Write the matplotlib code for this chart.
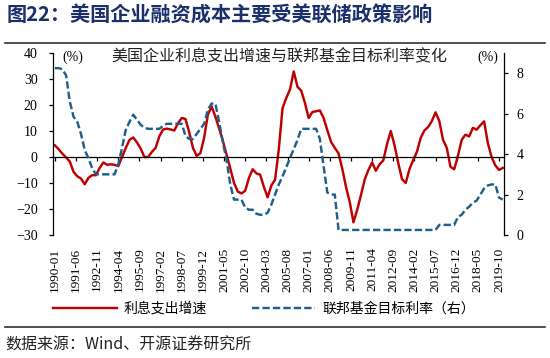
import matplotlib
matplotlib.use("Agg")
import matplotlib.pyplot as plt
import numpy as np

# ---------------- data ----------------
# quarterly observations, month index from 1990-01 (0) to 2020-01 (360)
months = list(range(0, 361, 3))

interest_growth = [
    4.5, 3.0, 1.3, -0.2, -1.7, -5.7, -7.4, -8.3, -10.5, -8.0,
    -7.0, -7.0, -4.2, -2.1, -3.0, -2.8, -3.0, -3.5, 0.0, 3.5,
    6.6, 7.5, 5.6, 3.2, 0.0, 0.0, 2.0, 3.5, 8.0, 10.6,
    10.9, 10.6, 10.2, 13.0, 15.0, 14.6, 9.5, 3.5, 0.4, 1.5,
    7.5, 16.3, 19.5, 15.5, 11.0, 6.3, 0.9, -4.4, -10.0, -13.3,
    -14.0, -13.0, -8.0, -4.7, -6.3, -6.8, -11.5, -15.5, -11.0, -8.7,
    3.0, 18.8, 22.7, 26.0, 32.9, 27.0, 25.5, 20.8, 15.0, 17.3,
    17.6, 17.9, 15.0, 10.3, 5.8, 3.5, 1.4, -4.5, -11.5, -17.3,
    -25.1, -20.3, -14.7, -8.7, -5.0, -2.1, -5.3, -2.8, -1.3, 5.0,
    10.0, 4.5, -2.3, -8.5, -10.0, -4.7, -1.2, 2.0, 7.3, 10.2,
    11.5, 13.8, 17.2, 13.8, 6.6, 3.5, -3.8, -4.7, 0.5, 6.6,
    8.6, 7.9, 11.2, 10.5, 12.2, 13.7, 5.4, 0.0, -3.2, -5.0,
    -4.2,
]

fed_target = [
    8.25, 8.25, 8.2, 7.9, 6.6, 5.85, 5.6, 5.0, 4.2, 3.8,
    3.3, 3.0, 3.0, 3.0, 3.0, 3.0, 3.0, 3.5, 4.3, 5.2,
    5.6, 5.95, 5.7, 5.45, 5.3, 5.25, 5.25, 5.25, 5.25, 5.4,
    5.5, 5.5, 5.5, 5.5, 5.5, 4.9, 4.75, 4.75, 5.0, 5.25,
    5.5, 6.2, 6.5, 6.5, 5.6, 4.6, 3.7, 2.5, 1.75, 1.75,
    1.75, 1.35, 1.25, 1.25, 1.05, 1.0, 1.0, 1.1, 1.5, 2.0,
    2.5, 2.9, 3.35, 3.8, 4.25, 4.7, 5.25, 5.25, 5.25, 5.25,
    5.25, 4.75, 3.4, 2.1, 2.0, 2.0, 0.25, 0.25, 0.25, 0.25,
    0.25, 0.25, 0.25, 0.25, 0.25, 0.25, 0.25, 0.25, 0.25, 0.25,
    0.25, 0.25, 0.25, 0.25, 0.25, 0.25, 0.25, 0.25, 0.25, 0.25,
    0.25, 0.25, 0.25, 0.5, 0.5, 0.5, 0.5, 0.5, 0.9, 1.0,
    1.25, 1.4, 1.6, 1.7, 2.0, 2.3, 2.45, 2.5, 2.5, 1.85,
    1.75,
]

tick_months = list(range(0, 358, 17))
tick_labels = [
    "1990-01", "1991-06", "1992-11", "1994-04", "1995-09", "1997-02",
    "1998-07", "1999-12", "2001-05", "2002-10", "2004-03", "2005-08",
    "2007-01", "2008-06", "2009-11", "2011-04", "2012-09", "2014-02",
    "2015-07", "2016-12", "2018-05", "2019-10",
]

left_ticks = [-30, -20, -10, 0, 10, 20, 30, 40]
right_ticks = [0, 2, 4, 6, 8]

title = "图22：美国企业融资成本主要受美联储政策影响"
inner_title = "美国企业利息支出增速与联邦基金目标利率变化"
name_red = "利息支出增速"
name_blue = "联邦基金目标利率（右）"
source = "数据来源：Wind、开源证券研究所"

# ---------------- style ----------------
CJK = ["Noto Sans CJK SC", "DejaVu Sans"]
SERIF = ["Liberation Serif", "Noto Sans CJK SC"]
plt.rcParams["font.family"] = SERIF
RED = "#C00000"
BLUE = "#1F5F8B"

fig = plt.figure(figsize=(5.5, 3.58), dpi=100)
ax = fig.add_axes([53 / 550, 1 - 235 / 358, (504 - 53) / 550, (235 - 53) / 358])
ax2 = ax.twinx()

l1, = ax.plot(months, interest_growth, color=RED, lw=1.75, solid_joinstyle="round")
l2, = ax2.plot(months, fed_target, color=BLUE, lw=1.75, dashes=(3.0, 1.3))

ax.set_xlim(-1.5, 361)
ax.set_ylim(-30, 40)
ax2.set_ylim(0, 9)
ax.set_yticks(left_ticks)
ax2.set_yticks(right_ticks)

for a in (ax, ax2):
    a.spines["top"].set_visible(False)
    a.patch.set_visible(False)
ax.spines["right"].set_visible(False)
ax2.spines["left"].set_visible(False)
ax2.spines["bottom"].set_visible(False)
ax.spines["bottom"].set_position(("data", 0))
for s in ("left", "bottom"):
    ax.spines[s].set_linewidth(0.9)
ax2.spines["right"].set_linewidth(0.9)

ax.set_xticks(tick_months)
ax.tick_params(axis="x", direction="out", length=3, width=0.9, labelbottom=False)
ax.tick_params(axis="y", direction="out", length=3, width=0.9, labelsize=10, pad=8)
ax2.tick_params(axis="y", direction="out", length=3, width=0.9, labelsize=10, pad=6)

sec = ax.secondary_xaxis(0.0)
sec.set_xticks(tick_months)
sec.set_xticklabels(tick_labels, rotation=90, fontsize=9.5)
sec.tick_params(length=0, pad=9)
sec.spines["bottom"].set_visible(False)

# texts
fig.text(7 / 550, 1 - 15 / 358, title, fontsize=14.5, fontweight="bold",
         color="#1B2F6B", family=CJK, va="center", ha="left")
fig.add_artist(plt.Line2D([5 / 550, 545 / 550], [1 - 43 / 358] * 2,
                          color="#333333", lw=1.2))
fig.add_artist(plt.Line2D([5 / 550, 545 / 550], [1 - 327 / 358] * 2,
                          color="#333333", lw=1.2))
fig.text(5 / 550, 1 - 345 / 358, source, fontsize=11.5, color="#222222",
         family=CJK, va="center", ha="left")

fig.text(279 / 550, 1 - 57 / 358, inner_title, fontsize=11.5, color="#222222",
         family=CJK, va="center", ha="center")
fig.text(73 / 550, 1 - 57 / 358, "(%)", fontsize=10, va="center", ha="center")
fig.text(488 / 550, 1 - 57 / 358, "(%)", fontsize=10, va="center", ha="center")

# legend
leg = fig.legend([l1, l2], [name_red, name_blue], loc="center",
                 bbox_to_anchor=(264 / 550, 1 - 309 / 358), ncol=2, frameon=False,
                 prop={"family": CJK, "size": 10}, handlelength=4.6,
                 columnspacing=3.2, handletextpad=0.5)

fig.savefig("out.png", dpi=100)
